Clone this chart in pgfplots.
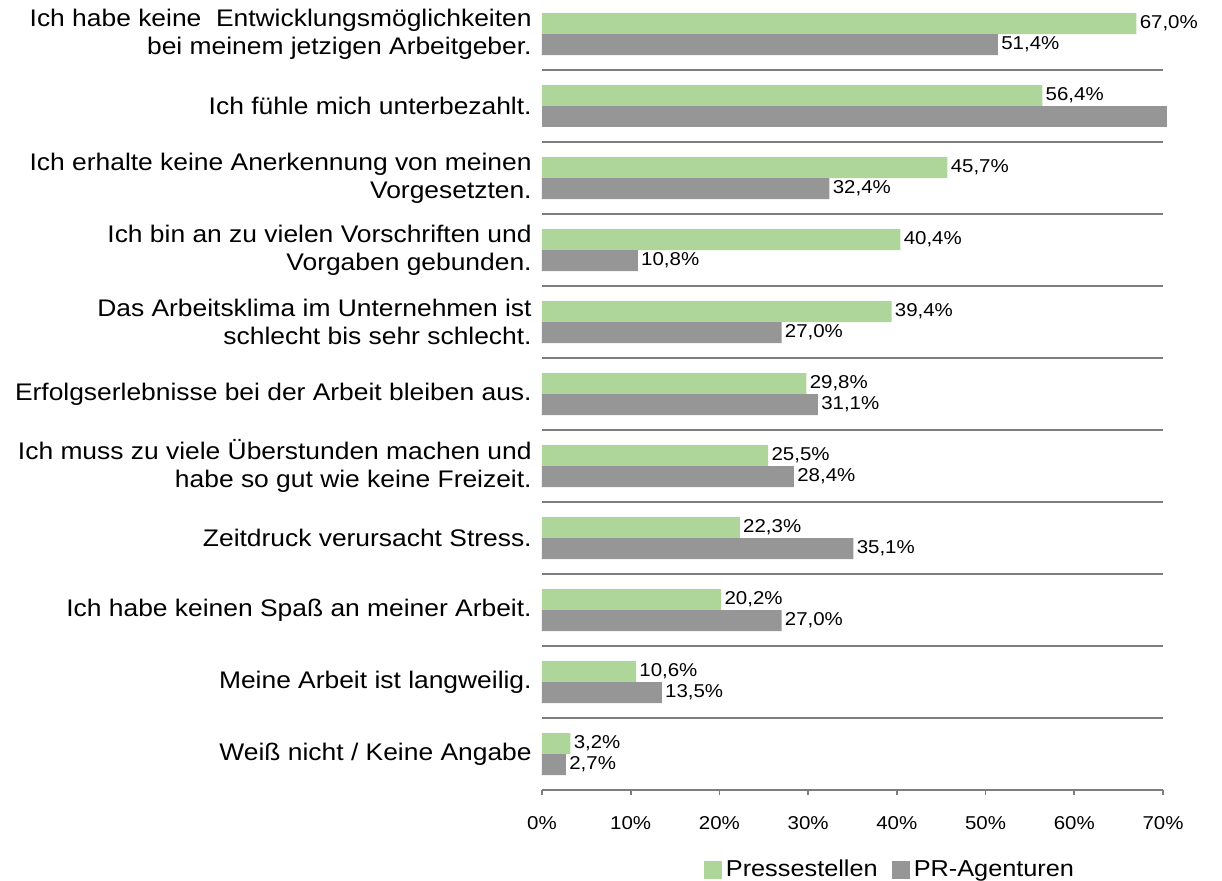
\documentclass[border=0pt]{standalone}
\usepackage{fontspec}
\setmainfont{Liberation Sans}[FakeStretch=1.1]
\usepackage{pgfplots}
\pgfplotsset{compat=1.18}
\usepackage{pgfplotstable}
\pgfkeys{/pgf/number format/assume math mode=true}
\definecolor{pgreen}{RGB}{174,214,155}
\definecolor{pgray}{RGB}{150,150,150}
\definecolor{linegray}{RGB}{125,125,125}

\pgfplotstableread{
y x
0 67.0
1 56.4
2 45.7
3 40.4
4 39.4
5 29.8
6 25.5
7 22.3
8 20.2
9 10.6
10 3.2
}\presse
\pgfplotstableread{
y x
0 51.4
2 32.4
3 10.8
4 27.0
5 31.1
6 28.4
7 35.1
8 27.0
9 13.5
10 2.7
}\agentur
\pgfplotstableread{
y x
1 70.5
}\agenturclip

\begin{document}
\begin{tikzpicture}
\begin{axis}[
  scale only axis,
  width=310.5pt, height=396pt,
  xbar, bar width=10.5pt,
  xmin=0, xmax=70,
  ymin=-0.5, ymax=10.5,
  y dir=reverse,
  clip=false,
  axis x line*=bottom,
  axis y line*=left,
  y axis line style={draw=none},
  x axis line style={draw=linegray, line width=0.8pt},
  xtick={0,10,...,70},
  xticklabel={\pgfmathprintnumber{\tick}\%},
  xtick style={draw=linegray, line width=0.8pt},
  tick align=outside,
  major tick length=2.5pt,
  xticklabel style={font=\fontsize{9.3pt}{11pt}\selectfont, yshift=-7pt},
  ytick={0,...,10},
  ytick style={draw=none},
  yticklabels={
    {Ich habe keine\ \ Entwicklungsmöglichkeiten\\bei meinem jetzigen Arbeitgeber.},
    {Ich fühle mich unterbezahlt.},
    {Ich erhalte keine Anerkennung von meinen\\Vorgesetzten.},
    {Ich bin an zu vielen Vorschriften und\\Vorgaben gebunden.},
    {Das Arbeitsklima im Unternehmen ist\\schlecht bis sehr schlecht.},
    {Erfolgserlebnisse bei der Arbeit bleiben aus.},
    {Ich muss zu viele Überstunden machen und\\habe so gut wie keine Freizeit.},
    {Zeitdruck verursacht Stress.},
    {Ich habe keinen Spaß an meiner Arbeit.},
    {Meine Arbeit ist langweilig.},
    {Weiß nicht / Keine Angabe}},
  yticklabel style={font=\fontsize{12pt}{14pt}\selectfont, align=right, inner sep=0pt, xshift=-2.5pt},
  extra y ticks={0.5,1.5,...,9.5},
  extra y tick labels={},
  extra y tick style={grid=major, major grid style={draw=linegray, line width=0.8pt}, tick style={draw=none}},
  nodes near coords={\pgfmathprintnumber[fixed,fixed zerofill,precision=1,use comma]{\pgfplotspointmeta}\%},
  nodes near coords style={font=\fontsize{9.3pt}{11pt}\selectfont, anchor=west, inner sep=1.5pt},
  point meta=x,
  legend style={at={(axis description cs:0.562,-0.101)}, anchor=center, draw=none, fill=none,
    legend columns=2, font=\fontsize{11.5pt}{13pt}\selectfont,
    /tikz/every even column/.append style={column sep=5pt}},
  legend image code/.code={\fill[#1] (0pt,-4.5pt) rectangle (9pt,4.5pt);},
  legend cell align=left,
]
\addplot[fill=pgreen, draw=none, bar shift=5.25pt] table[x=x,y=y]{\presse};
\addlegendentry{Pressestellen}
\addplot[fill=pgray, draw=none, bar shift=-5.25pt] table[x=x,y=y]{\agentur};
\addlegendentry{PR-Agenturen}
\addplot[fill=pgray, draw=none, bar shift=-5.25pt, nodes near coords={}] table[x=x,y=y]{\agenturclip};
\end{axis}
\pgfresetboundingbox
\path (-271pt,-45pt) rectangle (340pt,395pt);
\end{tikzpicture}
\end{document}
